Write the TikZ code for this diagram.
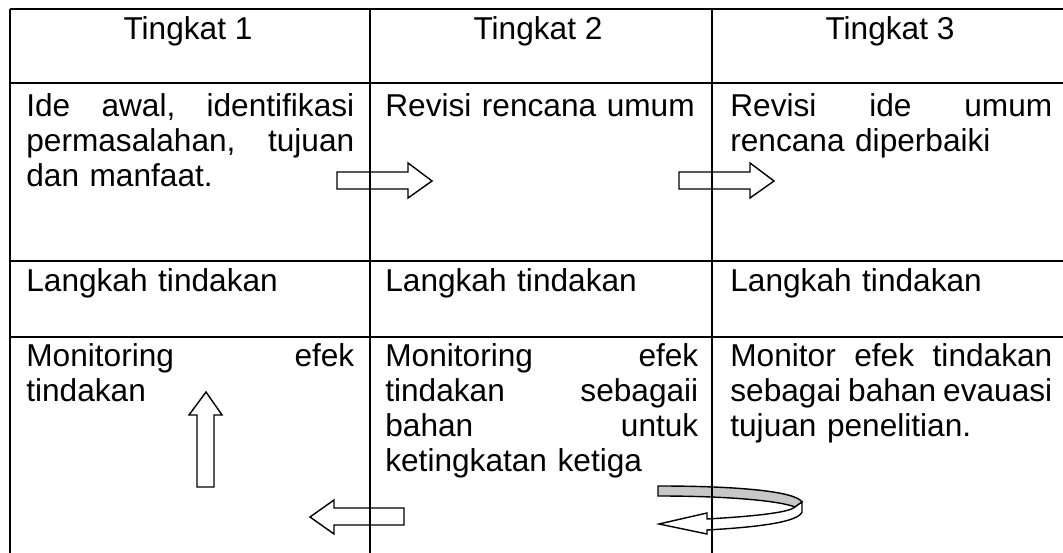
\documentclass[tikz,border=0pt]{standalone}
\usepackage{fontspec}
\setmainfont{Liberation Sans}

\begin{document}
\begin{tikzpicture}[x=0.02cm,y=-0.02cm,
  grid/.style={black,line width=.7pt},
  blockarrow/.style={fill=white,draw=black,line width=.8pt,line join=miter},
  backband/.style={fill=black!22,draw=black,line width=.8pt},
  headtext/.style={anchor=base,inner sep=0pt,font=\fontsize{18}{19.9}\selectfont},
  cellone/.style={anchor=base west,inner sep=0pt,align=left,text width=6.56cm,font=\fontsize{18}{19.9}\selectfont},
  celltwo/.style={cellone,text width=6.26cm},
  cellthree/.style={cellone,text width=6.44cm}]
\useasboundingbox (0,0) rectangle (1063,553);
\fill[white] (0,0) rectangle (1063,553);
\draw[blockarrow] (337,172) --++(71,0) --++(0,-9) --++(24,18) --++(-24,17) --++(0,-9) --++(-71,0) -- cycle;
\draw[blockarrow] (679,172) --++(71,0) --++(0,-9) --++(24,18) --++(-24,17) --++(0,-9) --++(-71,0) -- cycle;
\draw[blockarrow] (197,487) --++(0,-72) --++(-8,0) --++(17,-23) --++(16,23) --++(-8,0) --++(0,72) -- cycle;
\draw[blockarrow] (404,508) --++(-70,0) --++(0,-8) --++(-24,17) --++(24,17) --++(0,-9) --++(70,0) -- cycle;
\draw[backband] (658,486) .. controls (735,486) and (795,491) .. (802,502) -- (795,507) .. controls (780,501) and (730,496) .. (658,496) -- cycle;
\draw[blockarrow] (802,502) -- (802,512) .. controls (798,522) and (760,527) .. (707,530) --++(0,4) -- (659,524) -- (707,513) --++(0,6) .. controls (760,516) and (790,512) .. (795,507) -- cycle;
\draw[grid] (10,9) -- (1063,9);
\draw[grid] (10,83) -- (1063,83);
\draw[grid] (10,261) -- (1063,261);
\draw[grid] (10,337) -- (1063,337);
\draw[grid] (10,9) -- (10,553);
\draw[grid] (370,9) -- (370,553);
\draw[grid] (712,9) -- (712,553);
\node[headtext] (tingkat1) at (188,40) {Tingkat 1};
\node[headtext] (tingkat2) at (538,40) {Tingkat 2};
\node[headtext] (tingkat3) at (890,40) {Tingkat 3};
\node[cellone] (ide) at (26,117) {Ide\hfill awal,\hfill identifikasi\\permasalahan,\hfill tujuan\\dan manfaat.};
\node[celltwo] (revisi2) at (385,117) {Revisi rencana umum};
\node[cellthree] (revisi3) at (730,117) {Revisi\hfill ide\hfill umum\\rencana diperbaiki};
\node[cellone] (langkah1) at (26,292) {Langkah tindakan};
\node[celltwo] (langkah2) at (385,292) {Langkah tindakan};
\node[cellthree] (langkah3) at (730,292) {Langkah tindakan};
\node[cellone] (monitor1) at (26,367) {Monitoring\hfill efek\\tindakan};
\node[celltwo] (monitor2) at (385,367) {Monitoring\hfill efek\\tindakan\hfill sebagaii\\bahan\hfill untuk\\ketingkatan ketiga};
\node[cellthree] (monitor3) at (730,367) {Monitor\hfill efek\hfill tindakan\\sebagai\hfill bahan\hfill evauasi\\tujuan penelitian.};
\end{tikzpicture}
\end{document}
